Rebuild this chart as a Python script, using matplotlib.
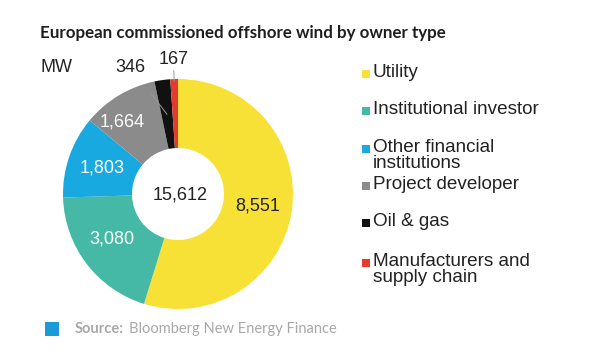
import matplotlib
matplotlib.use("Agg")
import matplotlib.pyplot as plt
import numpy as np
from matplotlib.patches import Rectangle

# data
owners = ["Utility", "Institutional investor", "Other financial\ninstitutions",
          "Project developer", "Oil & gas", "Manufacturers and\nsupply chain"]
capacity_mw = [8551, 3080, 1803, 1664, 346, 167]
total_label = "15,612"
colors = ["#F8E137", "#45B9A6", "#18A9E0", "#8B8B8B", "#111111", "#E53A2E"]
label_colors = ["#222222", "white", "white", "white", "#222222", "#222222"]

W, H = 600, 356
fig = plt.figure(figsize=(6, 3.56), dpi=100)
fig.patch.set_facecolor("white")


def px(x, y):
    # pixel position (from top-left) -> figure fraction
    return x / W, 1 - y / H


font = "Liberation Sans"

# donut: centre (178, 194), radius 115 px
cx, cy, r = 178, 194, 115
ax = fig.add_axes([(cx - r) / W, (H - cy - r) / H, 2 * r / W, 2 * r / H])
wedges, _ = ax.pie(capacity_mw, colors=colors, startangle=90, counterclock=False,
                   radius=1, wedgeprops=dict(width=0.6, linewidth=0))
ax.set_xlim(-1, 1)
ax.set_ylim(-1, 1)
ax.set_aspect("equal")
ax.axis("off")

# wedge value labels (radius, angle nudge in degrees)
label_pos = [(0.70, 0), (0.70, -3), (0.70, 0), (0.79, 7)]
for i, w in enumerate(wedges[:4]):
    rr, nudge = label_pos[i]
    mid = np.deg2rad((w.theta1 + w.theta2) / 2 + nudge)
    ax.text(rr * np.cos(mid), rr * np.sin(mid), f"{capacity_mw[i]:,}",
            ha="center", va="center", fontsize=13, color=label_colors[i],
            family=font, clip_on=False)

# small wedges: labels outside with leader lines
w = wedges[4]
mid = np.deg2rad((w.theta1 + w.theta2) / 2)
ax.annotate(f"{capacity_mw[4]:,}", xy=(0.70 * np.cos(mid), 0.70 * np.sin(mid)),
            xytext=(-0.41, 1.10), ha="center", va="center", fontsize=13,
            color="#222222", family=font, annotation_clip=False,
            arrowprops=dict(arrowstyle="-", color="#999999", lw=0.7,
                            shrinkA=14, shrinkB=0))
w = wedges[5]
mid = np.deg2rad((w.theta1 + w.theta2) / 2)
ax.annotate(f"{capacity_mw[5]:,}", xy=(0.98 * np.cos(mid), 0.98 * np.sin(mid)),
            xytext=(-0.04, 1.17), ha="center", va="center", fontsize=13,
            color="#222222", family=font, annotation_clip=False,
            arrowprops=dict(arrowstyle="-", color="#999999", lw=0.7,
                            shrinkA=8, shrinkB=0))

ax.text(0.02, -0.01, total_label, ha="center", va="center", fontsize=13,
        color="#222222", family=font)

# title and unit
fig.text(*px(40, 33), "European commissioned offshore wind by owner type",
         fontsize=12.2, fontweight="bold", family="Lato", color="#1E1E1E",
         ha="left", va="center")
fig.text(*px(40, 67), "MW", fontsize=13, family=font, color="#222222",
         ha="left", va="center")

# legend (manual, uniform spacing like the original)
leg_y = [73, 110, 148, 185, 222, 262]
for i, (name, c) in enumerate(zip(owners, colors)):
    x0, y0 = px(362, leg_y[i] + 5)
    fig.patches.append(Rectangle((x0, y0), 8 / W, 8 / H, transform=fig.transFigure,
                                 facecolor=c, edgecolor="none"))
    fig.text(*px(373, leg_y[i] - 9), name, fontsize=13.6, family=font,
             color="#222222", ha="left", va="top", linespacing=0.95)

# source
x0, y0 = px(45, 336)
fig.patches.append(Rectangle((x0, y0), 14 / W, 14 / H, transform=fig.transFigure,
                             facecolor="#1A9AD6", edgecolor="none"))
fig.text(*px(75, 329), "Source:", fontsize=10.5, fontweight="bold",
         family="Lato", color="#A8A8A8", ha="left", va="center")
fig.text(*px(129, 329), "Bloomberg New Energy Finance", fontsize=10.5,
         family="Lato", color="#A8A8A8", ha="left", va="center")

fig.savefig("out.png", dpi=100, facecolor="white")
